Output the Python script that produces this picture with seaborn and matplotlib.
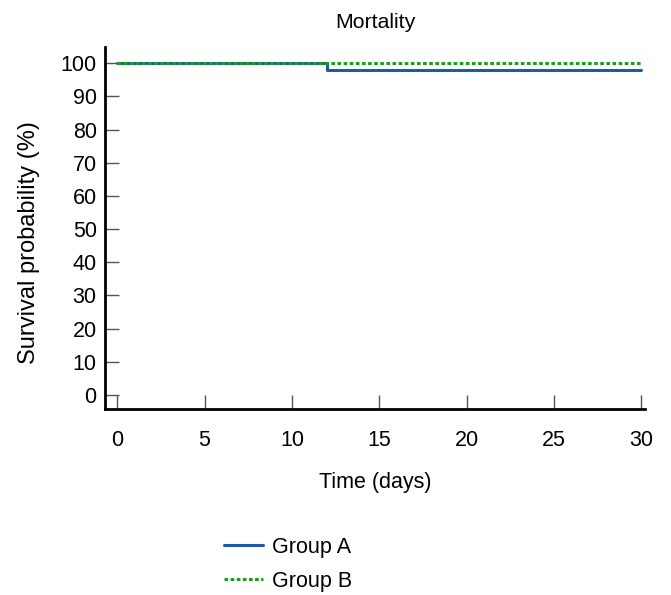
import matplotlib
matplotlib.use('Agg')
import matplotlib.pyplot as plt
from matplotlib.lines import Line2D
import pandas as pd
import seaborn as sns

# Dados (curva de sobrevivência)
tempo_a = [0, 12, 30]
sobrev_a = [100, 98, 98]
tempo_b = [0, 30]
sobrev_b = [100, 100]
grupos = ['Group A', 'Group B']

df = pd.concat([
    pd.DataFrame({'tempo': tempo_a, 'sobrev': sobrev_a, 'grupo': grupos[0]}),
    pd.DataFrame({'tempo': tempo_b, 'sobrev': sobrev_b, 'grupo': grupos[1]}),
])

sns.set_theme(style="ticks")
plt.rcParams['font.family'] = ['Liberation Sans', 'DejaVu Sans']
plt.rcParams['text.color'] = 'black'
plt.rcParams['axes.labelcolor'] = 'black'

fig = plt.figure(figsize=(6.71, 5.95), dpi=100)
ax = fig.add_axes([0.1565, 0.3126, 0.8045, 0.608])

cores = {'Group A': '#1f5aa6', 'Group B': '#1ea01e'}
sns.lineplot(data=df, x='tempo', y='sobrev', hue='grupo', style='grupo',
             palette=cores, dashes={'Group A': '', 'Group B': (1.2, 0.8)},
             drawstyle='steps-post', linewidth=2.2, ax=ax, legend=False)

ax.set_xlim(-0.7, 30.2)
ax.set_ylim(-4.2, 104.8)
ax.set_xticks(range(0, 31, 5))
ax.set_yticks(range(0, 101, 10))
ax.tick_params(direction='in', length=10, width=1, color='#555555',
               labelsize=15.5, labelcolor='black')
ax.tick_params(axis='x', pad=15)
ax.tick_params(axis='y', pad=6)
for s in ['top', 'right']:
    ax.spines[s].set_visible(False)
for s in ['left', 'bottom']:
    ax.spines[s].set_linewidth(2)
    ax.spines[s].set_color('black')

ax.set_title('Mortality', fontsize=15.3, pad=14)
ax.set_xlabel('Time (days)', fontsize=15.5, labelpad=15)
ax.set_ylabel('Survival probability (%)', fontsize=17)
ax.yaxis.set_label_coords(-0.12, 0.461)

handles = [Line2D([], [], color=cores['Group A'], lw=2.2),
           Line2D([], [], color=cores['Group B'], lw=2.2, ls=(0, (1.2, 0.8)))]
fig.legend(handles, grupos, loc='upper left', bbox_to_anchor=(0.305, 0.13),
           frameon=False, fontsize=15.5, handlelength=1.8, handletextpad=0.45,
           labelspacing=0.6)

fig.savefig('out.png', dpi=100)
